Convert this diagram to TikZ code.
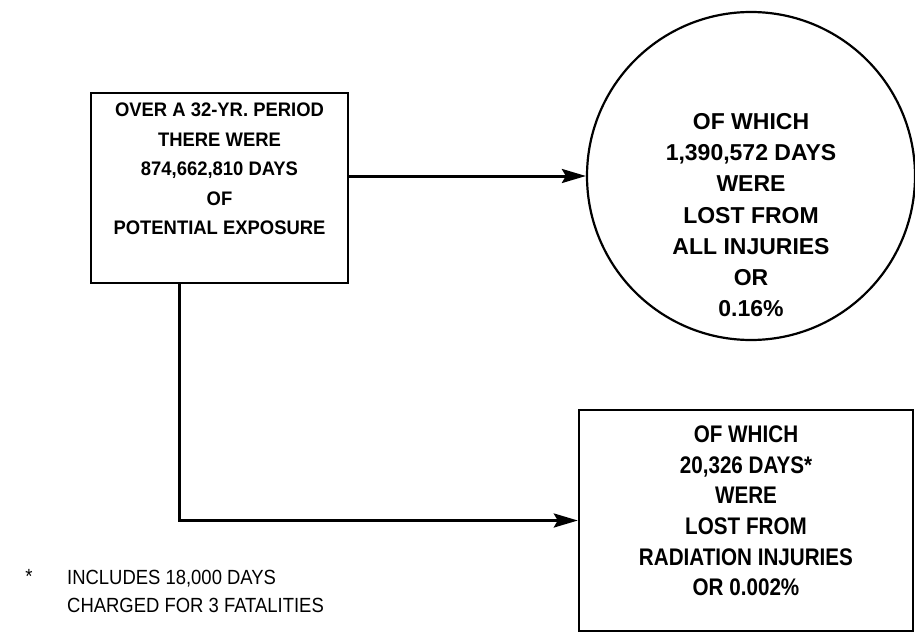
\documentclass[tikz,border=0pt]{standalone}
\usepackage{fontspec}
\setmainfont{Liberation Sans}
\newfontfamily\wordfont[FakeStretch=0.94]{Liberation Sans}
\newfontfamily\narrowfont[FakeStretch=0.86]{Liberation Sans}
\newfontfamily\notefont[FakeStretch=0.9]{Liberation Sans}
\usepackage{tikz}
\usetikzlibrary{arrows.meta, positioning}

\begin{document}
\begin{tikzpicture}[x=1pt, y=-1pt,
    box/.style={rectangle, draw, line width=2.4pt, inner sep=0pt},
    ring/.style={circle, draw, line width=2.2pt, inner sep=0pt},
    words/.style={align=center, inner sep=0pt, font=\wordfont\bfseries\fontsize{19.6}{29.5}\selectfont},
    narrowwords/.style={align=center, inner sep=0pt, font=\narrowfont\bfseries\fontsize{24}{30.6}\selectfont},
    flow/.style={line width=3pt, -{Stealth[length=24pt, width=14pt, inset=4pt]}}
]
\useasboundingbox (0,0) rectangle (915,634);
% exposure box
\node[box, minimum width=257pt, minimum height=190pt] (expo) at (219.5,188) {};
\node[words, below=11pt of expo.north] (expotxt) {OVER A 32-YR. PERIOD\\THERE WERE\\874,662,810 DAYS\\OF\\POTENTIAL EXPOSURE};
% all injuries
\node[ring, minimum size=328pt] (allinj) at (751,176) {};
\node[words, font=\bfseries\fontsize{23}{31.3}\selectfont, below=102pt of allinj.north] (allinjtxt) {OF WHICH\\1,390,572 DAYS\\WERE\\LOST FROM\\ALL INJURIES\\OR\\0.16\%};
% radiation injuries
\node[box, minimum width=334pt, minimum height=221pt] (radinj) at (746,520.5) {};
\node[narrowwords, below=17pt of radinj.north] (radinjtxt) {OF WHICH\\20,326 DAYS*\\WERE\\LOST FROM\\RADIATION INJURIES\\OR 0.002\%};
% footnote
\node[anchor=north west, align=left, inner sep=0pt, font=\notefont\fontsize{20.5}{28}\selectfont] (note) at (67,570) {INCLUDES 18,000 DAYS\\CHARGED FOR 3 FATALITIES};
\node[inner sep=0pt, font=\notefont\fontsize{20.5}{28}\selectfont, anchor=north] (star) at (29,569) {*};
% connectors
\coordinate (drop) at ([xshift=-40.5pt]expo.south);
\draw[flow] (allinj.west -| expo.east) -- (allinj.west);
\draw[flow] (drop) |- (radinj.west);
\end{tikzpicture}
\end{document}
